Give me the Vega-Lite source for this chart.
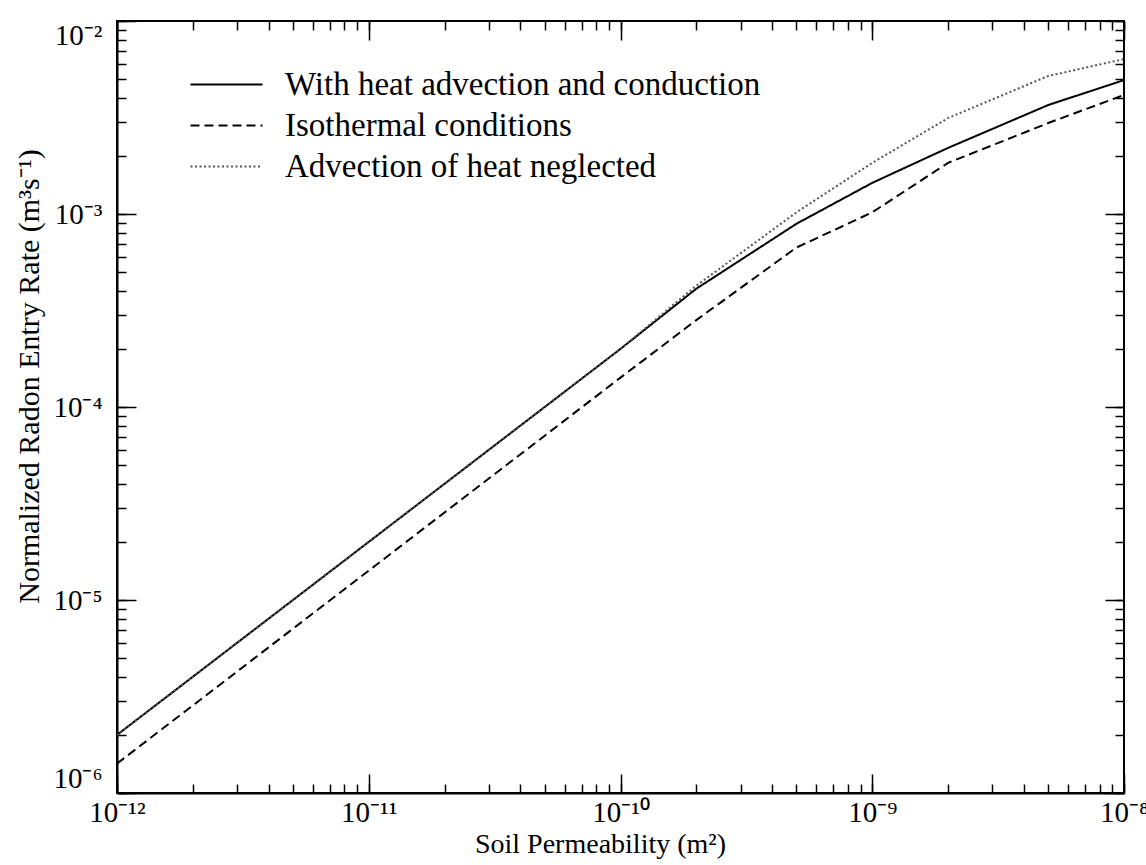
{
  "$schema": "https://vega.github.io/schema/vega-lite/v6.json",
  "width": 1007,
  "height": 772,
  "autosize": "none",
  "padding": {"left": 117, "top": 21, "right": 22, "bottom": 72},
  "background": "white",
  "config": {
    "view": {"stroke": "black", "strokeWidth": 2},
    "font": "Liberation Serif",
    "axis": {"grid": false, "domainColor": "black", "domainWidth": 2, "tickColor": "black", "tickWidth": 1.5, "labelColor": "black", "titleColor": "black", "labelFont": "Liberation Serif", "titleFont": "Liberation Serif", "titleFontWeight": "normal"}
  },
  "data": {
    "values": [
      {"series": "With heat advection and conduction", "k": 1e-12, "q": 2.0e-6},
      {"series": "With heat advection and conduction", "k": 2e-12, "q": 4.0e-6},
      {"series": "With heat advection and conduction", "k": 5e-12, "q": 1.0e-5},
      {"series": "With heat advection and conduction", "k": 1e-11, "q": 2.0e-5},
      {"series": "With heat advection and conduction", "k": 2e-11, "q": 4.0e-5},
      {"series": "With heat advection and conduction", "k": 5e-11, "q": 1.0e-4},
      {"series": "With heat advection and conduction", "k": 1e-10, "q": 2.0e-4},
      {"series": "With heat advection and conduction", "k": 2e-10, "q": 4.1e-4},
      {"series": "With heat advection and conduction", "k": 5e-10, "q": 8.9e-4},
      {"series": "With heat advection and conduction", "k": 1e-9, "q": 1.45e-3},
      {"series": "With heat advection and conduction", "k": 2e-9, "q": 2.2e-3},
      {"series": "With heat advection and conduction", "k": 5e-9, "q": 3.67e-3},
      {"series": "With heat advection and conduction", "k": 1e-8, "q": 4.94e-3},
      {"series": "Isothermal conditions", "k": 1e-12, "q": 1.42e-6},
      {"series": "Isothermal conditions", "k": 2e-12, "q": 2.84e-6},
      {"series": "Isothermal conditions", "k": 5e-12, "q": 7.1e-6},
      {"series": "Isothermal conditions", "k": 1e-11, "q": 1.42e-5},
      {"series": "Isothermal conditions", "k": 2e-11, "q": 2.84e-5},
      {"series": "Isothermal conditions", "k": 5e-11, "q": 7.1e-5},
      {"series": "Isothermal conditions", "k": 1e-10, "q": 1.42e-4},
      {"series": "Isothermal conditions", "k": 2e-10, "q": 2.82e-4},
      {"series": "Isothermal conditions", "k": 5e-10, "q": 6.7e-4},
      {"series": "Isothermal conditions", "k": 1e-9, "q": 1.02e-3},
      {"series": "Isothermal conditions", "k": 2e-9, "q": 1.84e-3},
      {"series": "Isothermal conditions", "k": 5e-9, "q": 2.96e-3},
      {"series": "Isothermal conditions", "k": 1e-8, "q": 4.14e-3},
      {"series": "Advection of heat neglected", "k": 1e-12, "q": 2.0e-6},
      {"series": "Advection of heat neglected", "k": 2e-12, "q": 4.0e-6},
      {"series": "Advection of heat neglected", "k": 5e-12, "q": 1.0e-5},
      {"series": "Advection of heat neglected", "k": 1e-11, "q": 2.0e-5},
      {"series": "Advection of heat neglected", "k": 2e-11, "q": 4.0e-5},
      {"series": "Advection of heat neglected", "k": 5e-11, "q": 1.0e-4},
      {"series": "Advection of heat neglected", "k": 1e-10, "q": 2.0e-4},
      {"series": "Advection of heat neglected", "k": 2e-10, "q": 4.25e-4},
      {"series": "Advection of heat neglected", "k": 5e-10, "q": 1.02e-3},
      {"series": "Advection of heat neglected", "k": 1e-9, "q": 1.84e-3},
      {"series": "Advection of heat neglected", "k": 2e-9, "q": 3.14e-3},
      {"series": "Advection of heat neglected", "k": 5e-9, "q": 5.19e-3},
      {"series": "Advection of heat neglected", "k": 1e-8, "q": 6.35e-3}
    ]
  },
  "layer": [
    {
      "mark": {"type": "line", "strokeWidth": 2, "clip": true},
      "encoding": {
        "x": {"field": "k", "type": "quantitative",
          "scale": {"type": "log", "domain": [1e-12, 1e-8], "nice": false},
          "axis": {"orient": "bottom", "ticks": false, "values": [1e-12, 1e-11, 1e-10, 1e-9, 1e-8],
            "grid": true, "gridColor": "black", "gridWidth": 1.5, "gridOpacity": 1, "gridDash": [19, 734, 19, 0],
            "labelExpr": "round(log(datum.value)/LN10) == -12 ? '10⁻¹²' : round(log(datum.value)/LN10) == -11 ? '10⁻¹¹' : round(log(datum.value)/LN10) == -10 ? '10⁻¹⁰' : round(log(datum.value)/LN10) == -9 ? '10⁻⁹' : '10⁻⁸'",
            "labelFontSize": 29, "labelPadding": 5, "labelFlush": false, "labelOverlap": false,
            "title": "Soil Permeability (m²)", "titleFontSize": 28, "titlePadding": 3, "titleX": 483}},
        "y": {"field": "q", "type": "quantitative",
          "scale": {"type": "log", "domain": [1e-6, 1e-2], "nice": false},
          "axis": {"orient": "left", "ticks": false, "values": [1e-6, 1e-5, 1e-4, 1e-3, 1e-2],
            "grid": true, "gridColor": "black", "gridWidth": 1.5, "gridOpacity": 1, "gridDash": [19, 969, 19, 0],
            "labelExpr": "round(log(datum.value)/LN10) == -6 ? '10⁻⁶' : round(log(datum.value)/LN10) == -5 ? '10⁻⁵' : round(log(datum.value)/LN10) == -4 ? '10⁻⁴' : round(log(datum.value)/LN10) == -3 ? '10⁻³' : '10⁻²'",
            "labelFontSize": 29, "labelPadding": 15, "labelFlush": true, "labelOverlap": false,
            "title": "Normalized Radon Entry Rate (m³s⁻¹)", "titleFontSize": 30, "titlePadding": 8, "titleY": 355}},
        "color": {"field": "series", "type": "nominal",
          "scale": {"domain": ["With heat advection and conduction", "Isothermal conditions", "Advection of heat neglected"], "range": ["#000000", "#000000", "#555555"]},
          "legend": {"orient": "none", "legendX": 93, "legendY": 47, "title": null, "padding": 0,
            "symbolType": "M-3,0H3", "symbolSize": 576, "symbolStrokeWidth": 2, "symbolFillColor": "transparent",
            "labelFont": "Liberation Serif", "labelFontSize": 33, "labelColor": "black", "labelOffset": 42, "labelLimit": 800, "rowPadding": 7}},
        "strokeDash": {"field": "series", "type": "nominal",
          "scale": {"domain": ["With heat advection and conduction", "Isothermal conditions", "Advection of heat neglected"], "range": [[1, 0], [9, 5], [2, 2.5]]},
          "legend": {"orient": "none", "legendX": 93, "legendY": 47, "title": null, "padding": 0,
            "symbolType": "M-3,0H3", "symbolSize": 576, "symbolStrokeWidth": 2, "symbolFillColor": "transparent",
            "labelFont": "Liberation Serif", "labelFontSize": 33, "labelColor": "black", "labelOffset": 42, "labelLimit": 800, "rowPadding": 7}}
      }
    },
    {
      "mark": {"type": "point", "opacity": 0},
      "encoding": {
        "x": {"field": "k", "type": "quantitative", "axis": {"orient": "top", "labels": false, "domain": false, "title": null, "tickSize": -9, "tickCount": 40}},
        "y": {"field": "q", "type": "quantitative", "axis": {"orient": "right", "labels": false, "domain": false, "title": null, "tickSize": -9, "tickCount": 40}}
      }
    },
    {
      "mark": {"type": "point", "opacity": 0},
      "encoding": {
        "x": {"field": "k", "type": "quantitative", "axis": {"orient": "bottom", "labels": false, "domain": false, "title": null, "tickSize": -9, "tickCount": 40}},
        "y": {"field": "q", "type": "quantitative", "axis": {"orient": "left", "labels": false, "domain": false, "title": null, "tickSize": -9, "tickCount": 40}}
      }
    }
  ]
}
